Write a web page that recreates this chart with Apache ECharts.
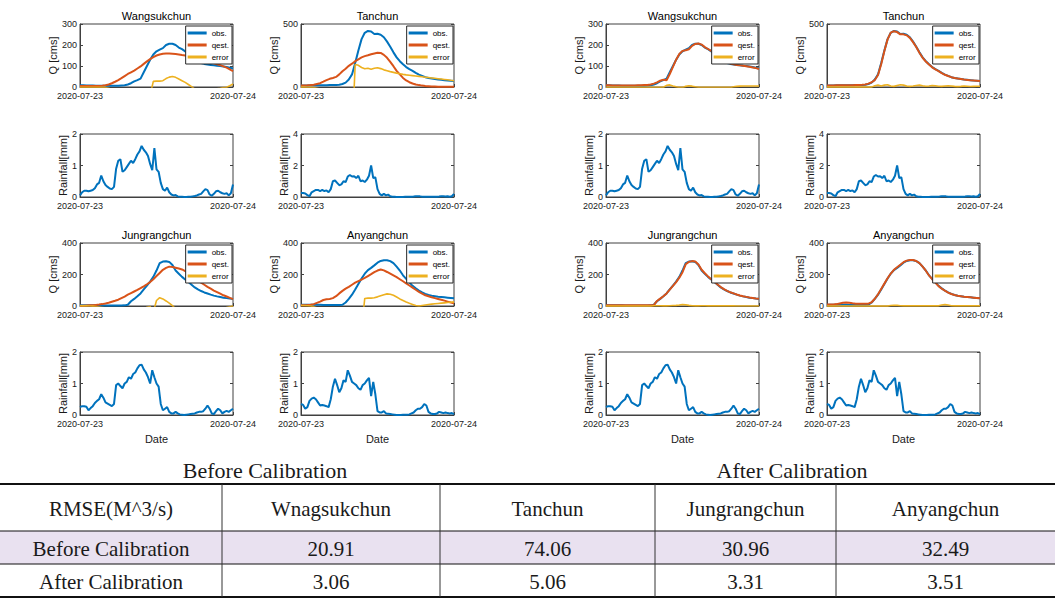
<!DOCTYPE html>
<html><head><meta charset="utf-8">
<script src="https://cdn.jsdelivr.net/npm/echarts@6/dist/echarts.min.js"></script>
<style>html,body{margin:0;padding:0;background:#fff;}#c{width:1063px;height:605px;}</style>
</head><body><div id="c"></div>
<script>
// ---------------- DATA ----------------
const stations = ['Wangsukchun', 'Tanchun', 'Jungrangchun', 'Anyangchun'];
const xTickLabels = ['2020-07-23', '2020-07-24'];
const qStepHours = 0.5;        // discharge sampled every 30 min
const rainStepHours = 1 / 3;   // rainfall sampled every 20 min
const qAxisMax = [300, 500, 400, 400];
const qAxisInterval = [100, 500, 200, 200];
const rainAxisMax = [2, 4, 2, 2];
const rainAxisInterval = [1, 2, 1, 1];
const legendNames = ['obs.', 'qest.', 'error'];
const panelTitles = ['Before Calibration', 'After Calibration'];

// Wangsukchun
const obsWangsukchun = [8,8,7,7,7,6,6,6,6,6,6,6,6,7,8,12,18,27,33,40,70,100,130,155,170,178,185,200,206,206,200,188,180,170,155,140,128,120,114,110,107,105,103,101,100,98,95,92,88];
const qestBeforeWangsukchun = [5,5,5,5,5,5,5,6,8,12,18,25,33,42,52,62,70,78,88,98,110,122,133,142,150,155,158,159,159,158,157,155,152,150,147,144,140,135,130,125,121,117,113,108,104,98,92,84,75];
const errorBeforeWangsukchun = [-1,-1,-1,-1,-1,-1,-1,-1,-2,-6,-12,-19,-27,-35,-44,-50,-52,-51,-55,-58,-40,-22,-40,27,28,28,30,40,47,50,46,38,30,22,12,2,-10,-14,-15,-15,-14,-12,-10,-8,-6,-3,-1,6,14];
const qestAfterWangsukchun = [8,8,7,7,7,7,7,7,7,7,8,8,9,10,12,16,22,30,35,32,62,96,130,157,172,175,180,196,205,207,202,190,181,172,158,143,130,122,116,112,108,105,103,101,99,96,93,90,86];
const errorAfterWangsukchun = [-1,-1,-1,-1,-1,-1,-1,-1,-1,-1,-1,-1,-1,-1,-1,-1,-1,-1,-1,8,10,5,1,-2,-2,3,6,4,1,-1,-2,-2,-2,-2,-2,-2,-2,-2,-2,-2,1,3,4,5,5,5,5,5,5];
const rainWangsukchun = [0.05,0.15,0.2,0.2,0.18,0.2,0.22,0.28,0.4,0.45,0.68,0.5,0.38,0.32,0.27,0.25,0.32,0.9,1.15,1.2,0.8,0.85,0.95,1.05,1.15,1.08,1.2,1.35,1.45,1.62,1.5,1.42,1.3,1.05,0.85,1.55,0.88,0.8,0.45,0.25,0.2,0.3,0.15,0.08,0.05,0.06,0.02,0.01,0.01,0.0,0.0,0.01,0.01,0.02,0.03,0.05,0.08,0.1,0.18,0.25,0.22,0.08,0.04,0.1,0.18,0.2,0.15,0.12,0.1,0.12,0.05,0.12,0.4];

// Tanchun
const obsTanchun = [12,12,12,13,13,13,14,14,14,15,15,16,18,24,35,60,100,190,290,380,430,445,440,420,422,415,395,360,320,275,235,205,180,158,142,128,112,98,88,78,72,68,64,60,57,54,51,49,47];
const qestBeforeTanchun = [12,12,13,15,18,24,30,42,55,65,72,80,100,125,145,168,185,205,220,235,245,252,260,266,272,270,255,232,200,165,128,100,72,52,38,28,20,15,11,8,6,4,3,2,1,1,1,1,1];
const errorBeforeTanchun = [-1,-1,-2,-3,-5,-10,-16,-28,-41,-50,-57,-64,-82,-101,-110,-108,-400,178,172,155,145,149,141,149,153,146,136,129,122,116,110,105,100,96,93,90,87,84,81,78,75,72,69,66,63,60,57,53,50];
const qestAfterTanchun = [12,12,12,13,13,13,14,14,14,15,15,17,20,27,38,55,95,180,285,378,432,443,436,418,418,410,390,356,318,272,232,202,178,156,140,126,110,97,87,78,72,67,63,59,56,53,51,49,47];
const errorAfterTanchun = [-1,-1,-1,-1,-1,-1,-1,-1,-1,-1,-1,-1,-1,-1,-1,10,15,8,15,18,8,5,12,18,15,8,5,8,12,15,10,6,8,12,10,6,5,8,10,8,5,3,5,8,6,4,5,6,6];
const rainTanchun = [0.25,0.25,0.22,0.12,0.05,0.3,0.38,0.45,0.45,0.38,0.45,0.38,0.42,0.3,0.5,1.0,1.05,0.9,0.75,0.8,1.0,0.95,1.3,1.4,1.3,1.32,1.2,1.35,1.0,1.05,0.95,1.1,1.35,2.0,1.2,1.25,0.5,0.2,0.1,0.2,0.1,0.15,0.05,0.02,0.01,0.0,0.0,0.0,0.0,0.01,0.01,0.02,0.02,0.03,0.05,0.05,0.04,0.02,0.01,0.01,0.01,0.01,0.01,0.01,0.02,0.03,0.05,0.04,0.03,0.05,0.02,0.05,0.2];

// Jungrangchun
const obsJungrangchun = [5,5,4,4,4,4,3,3,3,3,3,3,3,3,4,8,30,45,62,80,105,130,155,185,225,272,282,284,280,260,225,205,185,168,152,135,118,105,95,86,79,72,66,61,57,53,50,47,45];
const qestBeforeJungrangchun = [2,2,3,4,5,7,9,12,16,21,27,33,40,50,60,72,82,92,102,113,125,138,152,170,190,210,230,242,250,248,243,238,232,222,210,195,178,162,148,135,122,110,98,88,78,68,60,52,44];
const errorBeforeJungrangchun = [1,1,1,0,-1,-3,-6,-9,-13,-18,-24,-30,-37,-47,-56,-64,-52,-47,-40,-33,-20,-8,-3,-40,35,53,45,32,18,2,-18,-33,-47,-54,-58,-60,-60,-57,-53,-49,-43,-38,-32,-27,-21,-15,-10,-5,-1];
const qestAfterJungrangchun = [4,4,4,4,4,4,4,4,4,4,4,4,4,4,4,5,32,47,62,80,104,128,152,180,215,265,280,285,282,263,230,208,188,170,154,137,120,107,96,87,80,73,67,62,58,54,51,48,46];
const errorAfterJungrangchun = [-1,-1,-1,-1,-1,-1,-1,-1,-1,-1,-1,-1,-1,-1,-1,2,2,2,1,1,2,3,4,6,10,8,4,2,1,1,2,2,1,1,1,1,1,1,1,1,1,0,0,0,0,0,0,0,0];
const rainJungrangchun = [0.25,0.28,0.28,0.26,0.15,0.22,0.28,0.38,0.45,0.5,0.66,0.55,0.4,0.36,0.32,0.28,0.35,0.95,1.0,0.92,0.85,1.0,1.05,1.2,1.15,1.3,1.35,1.48,1.58,1.6,1.45,1.35,1.2,1.0,1.42,1.2,1.0,0.9,0.35,0.15,0.2,0.25,0.1,0.05,0.05,0.1,0.05,0.02,0.01,0.0,0.01,0.02,0.03,0.04,0.05,0.08,0.1,0.1,0.12,0.2,0.3,0.2,0.05,0.03,0.12,0.2,0.15,0.05,0.1,0.13,0.1,0.15,0.2];

// Anyangchun
const obsAnyangchun = [8,8,8,8,8,8,8,7,7,7,7,7,7,8,22,45,72,105,140,175,205,228,242,258,275,286,291,291,285,272,250,225,195,172,150,128,112,98,86,77,70,65,62,59,57,55,53,51,49];
const qestBeforeAnyangchun = [5,5,6,8,12,20,28,38,43,45,50,62,80,96,110,122,135,148,158,168,178,190,202,215,225,232,226,216,205,194,183,170,157,143,130,117,103,90,78,68,62,55,50,45,40,34,28,22,18];
const errorBeforeAnyangchun = [3,3,2,0,-4,-12,-20,-30,-36,-38,-43,-55,-73,-88,-88,-77,-63,-43,-18,-150,48,50,50,52,58,65,72,77,75,68,57,45,35,25,17,10,3,0,3,6,9,12,14,16,18,20,22,24,26];
const qestAfterAnyangchun = [10,10,10,12,16,20,22,20,17,15,14,14,14,15,24,46,74,108,142,176,206,230,246,262,278,288,292,292,286,272,250,224,194,170,148,126,110,97,85,76,70,65,62,59,57,55,53,51,49];
const errorAfterAnyangchun = [-1,-1,-1,-1,-1,-1,-1,-1,-1,-1,-1,-1,-1,-1,-1,-1,-1,-1,-1,-1,3,5,4,2,1,1,1,1,1,1,1,1,1,1,1,1,6,10,6,2,1,1,1,1,1,1,1,1,1];
const rainAnyangchun = [0.35,0.32,0.2,0.25,0.45,0.52,0.55,0.5,0.4,0.3,0.32,0.3,0.28,0.25,0.5,0.9,1.15,0.95,0.72,0.85,1.1,1.05,1.42,1.25,1.05,1.0,0.95,0.85,0.8,0.95,1.0,1.1,1.18,0.6,1.05,0.65,0.12,0.08,0.08,0.12,0.05,0.04,0.03,0.02,0.01,0.0,0.0,0.0,0.01,0.01,0.01,0.02,0.05,0.08,0.15,0.2,0.2,0.25,0.35,0.3,0.1,0.05,0.03,0.03,0.05,0.1,0.08,0.06,0.08,0.06,0.05,0.06,0.03];

// RMSE table
const tableHeader = ['RMSE(M^3/s)', 'Wnagsukchun', 'Tanchun', 'Jungrangchun', 'Anyangchun'];
const tableRowLabels = ['Before Calibration', 'After Calibration'];
const rmseBefore = [20.91, 74.06, 30.96, 32.49];
const rmseAfter = [3.06, 5.06, 3.31, 3.51];

// ---------------- BUILD ----------------
const obsList = [obsWangsukchun, obsTanchun, obsJungrangchun, obsAnyangchun];
const qestList = [
  [qestBeforeWangsukchun, qestBeforeTanchun, qestBeforeJungrangchun, qestBeforeAnyangchun],
  [qestAfterWangsukchun, qestAfterTanchun, qestAfterJungrangchun, qestAfterAnyangchun]];
const errList = [
  [errorBeforeWangsukchun, errorBeforeTanchun, errorBeforeJungrangchun, errorBeforeAnyangchun],
  [errorAfterWangsukchun, errorAfterTanchun, errorAfterJungrangchun, errorAfterAnyangchun]];
const rainList = [rainWangsukchun, rainTanchun, rainJungrangchun, rainAnyangchun];

const W = 1063;
const FONT = 'Liberation Sans';
const SERIF = 'Liberation Serif';
const TXT = '#1a1a1a';
const BOX = '#404040';
const C_OBS = '#0072BD', C_QEST = '#D95319', C_ERR = '#EDB120';
const colLefts = [80, 301, 606, 827];
const rowTops = [24, 134, 243, 352];
const GW = 153, GH = 63;

const toXY = (arr, step) => arr.map((v, i) => [i * step, v]);

const grids = [], xAxes = [], yAxes = [], series = [], legends = [], graphic = [];

function addGrid(left, top, yMax, yInt, yName, yGap, xName) {
  const gi = grids.length;
  grids.push({ left, top, width: GW, height: GH, show: true, borderColor: BOX, borderWidth: 1,
    backgroundColor: '#fff', containLabel: false, outerBoundsMode: 'none' });
  xAxes.push({ gridIndex: gi, type: 'value', min: 0, max: 24, interval: 24,
    axisLine: { show: true, lineStyle: { color: BOX, width: 1 } },
    axisTick: { show: true, inside: true, length: 3, lineStyle: { color: BOX } },
    axisLabel: { show: true, showMinLabel: true, showMaxLabel: true, hideOverlap: false,
      formatter: v => xTickLabels[Math.round(v / 24)], fontFamily: FONT, fontSize: 9, color: TXT, margin: 4 },
    splitLine: { show: false },
    name: xName || '', nameLocation: 'middle', nameGap: 18,
    nameTextStyle: { fontFamily: FONT, fontSize: 11, color: TXT } });
  yAxes.push({ gridIndex: gi, type: 'value', min: 0, max: yMax, interval: yInt,
    axisLine: { show: true, lineStyle: { color: BOX, width: 1 } },
    axisTick: { show: true, inside: true, length: 3, lineStyle: { color: BOX } },
    axisLabel: { show: true, fontFamily: FONT, fontSize: 9, color: TXT, margin: 3 },
    splitLine: { show: false },
    name: yName, nameLocation: 'middle', nameRotate: 90, nameGap: yGap,
    nameTextStyle: { fontFamily: FONT, fontSize: 11, color: TXT } });
  // mirrored ticks on the right edge (MATLAB box style)
  yAxes.push({ gridIndex: gi, type: 'value', position: 'right', min: 0, max: yMax, interval: yInt,
    axisLine: { show: false }, axisLabel: { show: false }, splitLine: { show: false },
    axisTick: { show: true, inside: true, length: 3, lineStyle: { color: BOX } } });
  return { gi, yi: yAxes.length - 2 };
}

function lineSeries(ax, name, data, color, width, z) {
  return { type: 'line', name, xAxisIndex: ax.gi, yAxisIndex: ax.yi, data, showSymbol: false, symbol: 'none',
    lineStyle: { color, width }, itemStyle: { color }, clip: true, animation: false, silent: true, z };
}

for (let p = 0; p < 2; p++) {
  for (let s = 0; s < 4; s++) {
    const col = s % 2, row = Math.floor(s / 2);
    const left = colLefts[p * 2 + col];
    const qTop = rowTops[row * 2], rTop = rowTops[row * 2 + 1];
    // discharge
    const aq = addGrid(left, qTop, qAxisMax[s], qAxisInterval[s], 'Q [cms]', 22, '');
    series.push(lineSeries(aq, legendNames[0], toXY(obsList[s], qStepHours), C_OBS, 2, 2));
    series.push(lineSeries(aq, legendNames[1], toXY(qestList[p][s], qStepHours), C_QEST, 2, 3));
    series.push(lineSeries(aq, legendNames[2], toXY(errList[p][s], qStepHours), C_ERR, 1.6, 4));
    graphic.push({ type: 'text', x: left + GW / 2, y: qTop - 8,
      style: { text: stations[s], align: 'center', verticalAlign: 'middle', fontFamily: FONT,
        fontSize: 11, fontWeight: 'normal', fill: '#000' } });
    legends.push({ data: legendNames, orient: 'vertical', right: W - (left + GW) + 1, top: qTop + 2,
      icon: 'rect', itemWidth: 19, itemHeight: 3, itemGap: 2, padding: [2, 3, 2, 2],
      textStyle: { fontFamily: FONT, fontSize: 8, color: '#000', lineHeight: 10 },
      borderColor: '#262626', borderWidth: 1, backgroundColor: '#fff', selectedMode: false, z: 10 });
    // rainfall
    const ar = addGrid(left, rTop, rainAxisMax[s], rainAxisInterval[s], 'Rainfall[mm]', 11, row === 1 ? 'Date' : '');
    series.push(lineSeries(ar, 'rain', toXY(rainList[s], rainStepHours), C_OBS, 2, 2));
  }
}

// ---------------- TABLE (graphic) ----------------
const colBounds = [0, 222, 440, 655, 836, 1055];
const rowBounds = [484, 531, 564, 597];
const panelCenters = [265, 792];
panelTitles.forEach((t, i) => graphic.push({ type: 'text', x: panelCenters[i], y: 470,
  style: { text: t, align: 'center', verticalAlign: 'middle', fontFamily: SERIF, fontSize: 22, fill: TXT } }));
graphic.push({ type: 'rect', shape: { x: 0, y: rowBounds[1], width: colBounds[5], height: rowBounds[2] - rowBounds[1] },
  style: { fill: '#E9E1F0' }, z: 1 });
rowBounds.forEach((y, i) => graphic.push({ type: 'line',
  shape: { x1: 0, y1: y, x2: colBounds[5], y2: y },
  style: { stroke: '#111', lineWidth: (i === 0 || i === 3) ? 2 : 1 }, z: 3 }));
colBounds.slice(1, 5).forEach(x => graphic.push({ type: 'line',
  shape: { x1: x, y1: rowBounds[0], x2: x, y2: rowBounds[3] },
  style: { stroke: '#333', lineWidth: 1 }, z: 3 }));
const cellCenter = j => (colBounds[j] + colBounds[j + 1]) / 2;
const rowCenter = r => (rowBounds[r] + rowBounds[r + 1]) / 2;
const tableRows = [tableHeader,
  [tableRowLabels[0]].concat(rmseBefore.map(v => v.toFixed(2))),
  [tableRowLabels[1]].concat(rmseAfter.map(v => v.toFixed(2)))];
tableRows.forEach((rowArr, r) => rowArr.forEach((t, j) => graphic.push({ type: 'text',
  x: cellCenter(j), y: rowCenter(r) + 1,
  style: { text: t, align: 'center', verticalAlign: 'middle', fontFamily: SERIF, fontSize: 21, fill: TXT }, z: 4 })));

const chart = echarts.init(document.getElementById('c'), null, { renderer: 'svg', width: 1063, height: 605 });
chart.setOption({
  backgroundColor: '#fff', animation: false,
  grid: grids, xAxis: xAxes, yAxis: yAxes, series, legend: legends, graphic
});
</script></body></html>
